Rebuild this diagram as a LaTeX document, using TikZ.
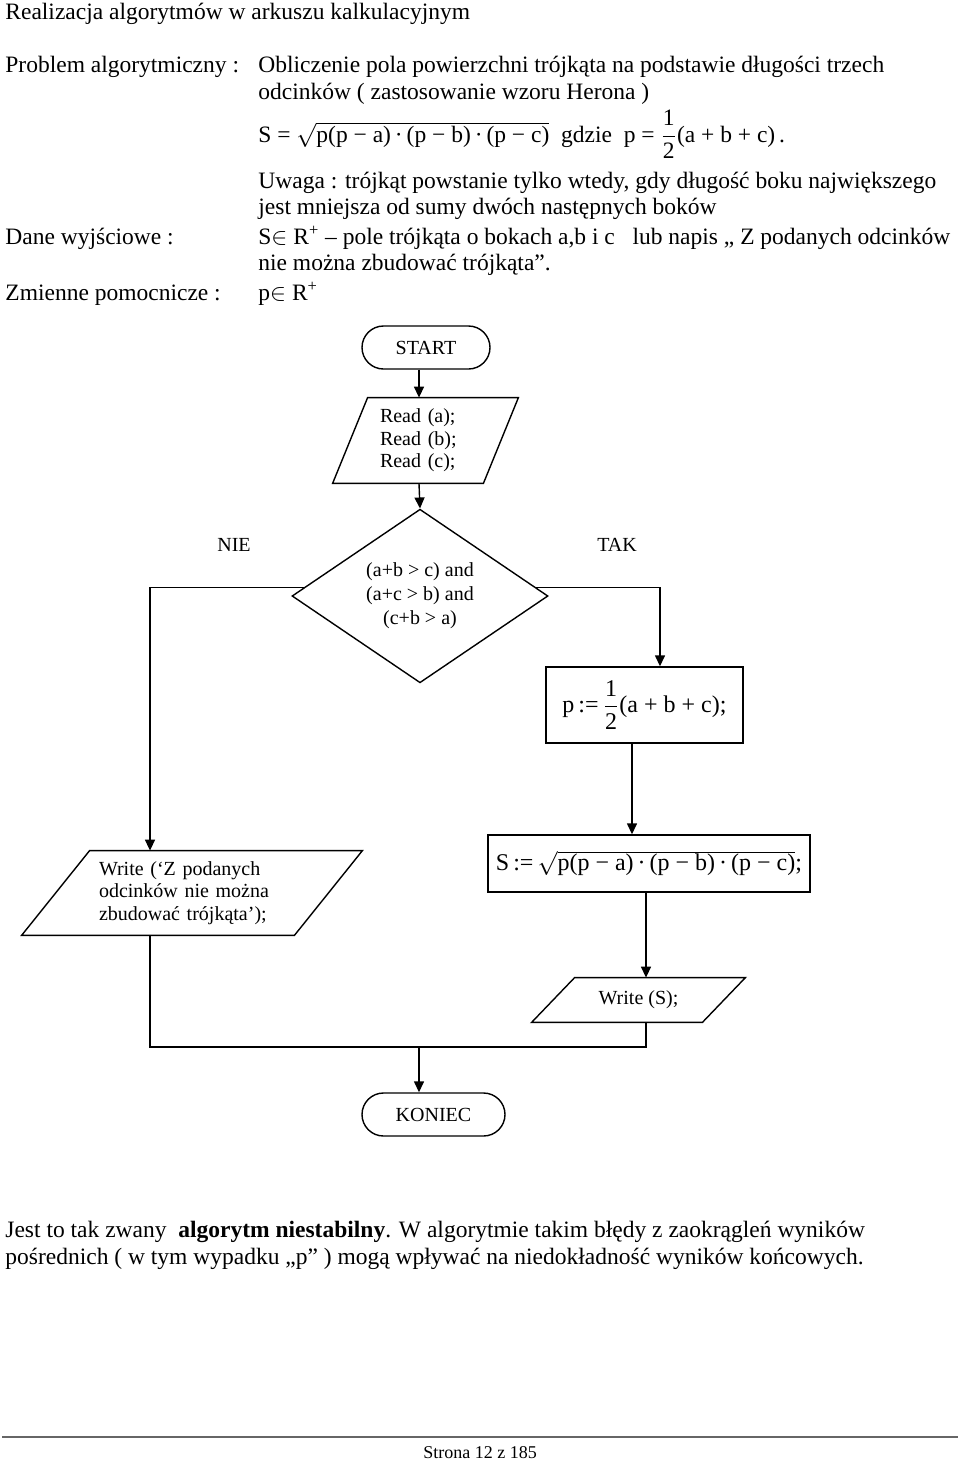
\documentclass[tikz,border=0pt]{standalone}
\usepackage{amsmath}
\usepackage{fontspec}
\setmainfont{Liberation Serif}
\usetikzlibrary{arrows.meta,shapes.geometric,calc}
\newcommand{\drawpgram}[2]{\draw[flow] (#1.south west) -- ([xshift=#2]#1.north west) -- (#1.north east) -- ([xshift=-#2]#1.south east) -- cycle;}
\begin{document}
\begin{tikzpicture}[x=0.5pt,y=-0.5pt,
  txt/.style={anchor=base west,inner sep=0pt,font=\fontsize{11.75}{14}\selectfont},
  flow/.style={line width=0.7pt},
  arr/.style={flow,-{Triangle[length=5.5pt,width=5pt]}},
  term/.style={flow,draw,rounded corners=10.75pt,minimum height=21.5pt,inner sep=0pt,font=\fontsize{10}{12}\selectfont},
  io/.style={inner sep=0pt,font=\fontsize{10}{11.3}\selectfont},
  proc/.style={flow,draw,inner sep=0pt,font=\fontsize{12}{14}\selectfont},
  dec/.style={flow,draw,diamond,inner sep=0pt,align=center,font=\fontsize{10}{12}\selectfont}]
\useasboundingbox (0,0) rectangle (960,1463);
% header text
\node[txt] (t1) at (5,19) {Realizacja algorytmów w arkuszu kalkulacyjnym};
\node[txt] (t2) at (5,72) {Problem algorytmiczny :};
\node[txt] (t3) at (258,72) {Obliczenie pola powierzchni trójkąta na podstawie długości trzech};
\node[txt] (t4) at (258,99) {odcinków ( zastosowanie wzoru Herona )};
\node[txt] (t5) at (258,142) {S = $\sqrt{\mbox{p(p − a)\,·\,(p − b)\,·\,(p − c)}}$ \ gdzie \ p = $\dfrac{\mbox{1}}{\mbox{2}}$(a + b + c)\,.};
\node[txt] (t6) at (258,188) {Uwaga : trójkąt powstanie tylko wtedy, gdy długość boku największego};
\node[txt] (t7) at (258,214) {jest mniejsza od sumy dwóch następnych boków};
\node[txt] (t8) at (5,244) {Dane wyjściowe :};
\node[txt] (t9) at (258,244) {S$\in$ R\textsuperscript{+} – pole trójkąta o bokach a,b i c \ \ lub napis „ Z podanych odcinków};
\node[txt] (t10) at (258,270) {nie można zbudować trójkąta”.};
\node[txt] (t11) at (5,300) {Zmienne pomocnicze :};
\node[txt] (t12) at (258,300) {p$\in$ R\textsuperscript{+}};
% columns
\coordinate (cC) at (419,0);
\coordinate (cL) at (150,0);
\coordinate (cR) at (660,0);
\coordinate (cP) at (632,0);
\coordinate (cS) at (646,0);
\coordinate (mj) at (419,1047);
% flowchart nodes
\node[term,minimum width=64pt] (start) at (426,347.5) {START};
\node[io,minimum width=92.5pt,minimum height=42.5pt,text width=45.5pt,align=left] (read) at (425.5,440.5) {Read (a);\\Read (b);\\Read (c);};
\drawpgram{read}{17.5pt}
\node[dec,minimum width=128pt,minimum height=83.5pt] (dec) at (420,596) {(a+b > c) and\\(a+c > b) and\\(c+b > a)};
\node[font=\fontsize{10}{12}\selectfont] (nie) at (234,545) {NIE};
\node[font=\fontsize{10}{12}\selectfont] (tak) at (617,545) {TAK};
\node[proc,minimum width=98.5pt,minimum height=38pt] (pbox) at (644.5,705) {p\,:=\,$\dfrac{\mbox{1}}{\mbox{2}}$(a + b + c);};
\node[proc,minimum width=161pt,minimum height=28.5pt] (sbox) at (649,863.5) {S\,:=\,$\sqrt{\mbox{p(p − a)\,·\,(p − b)\,·\,(p − c)}}$;};
\node[io,minimum width=170pt,minimum height=42pt,text width=93pt,align=left] (wz) at (192,893) {Write (‘Z podanych\\odcinków nie można\\zbudować trójkąta’);};
\drawpgram{wz}{34pt}
\node[io,minimum width=106.5pt,minimum height=22pt] (ws) at (638.5,1000) {Write (S);};
\drawpgram{ws}{21.5pt}
\node[term,minimum width=71.5pt] (kon) at (433.5,1114.5) {KONIEC};
% connectors
\draw[arr] (start.south -| cC) -- (read.north -| cC);
\draw[arr] (read.south -| cC) -- (dec.north);
\draw[arr] ($(dec.west)!0.1!(dec.north)$) -| (wz.north -| cL);
\draw[arr] ($(dec.east)!0.1!(dec.north)$) -| (pbox.north -| cR);
\draw[arr] (pbox.south -| cP) -- (sbox.north -| cP);
\draw[arr] (sbox.south -| cS) -- (ws.north -| cS);
\draw[flow] (wz.south -| cL) |- (mj) -| (ws.south -| cS);
\draw[arr] (mj) -- (kon.north -| mj);
% bottom text
\node[txt] (b1) at (5,1237) {Jest to tak zwany \ \textbf{algorytm niestabilny}. W algorytmie takim błędy z zaokrągleń wyników};
\node[txt] (b2) at (5,1264) {pośrednich ( w tym wypadku „p” ) mogą wpływać na niedokładność wyników końcowych.};
% footer
\coordinate (fl) at (2,1437);
\coordinate (fr) at (958,1437);
\draw[black!60,line width=1pt] (fl) -- (fr);
\node[font=\fontsize{9}{11}\selectfont,inner sep=0pt,anchor=base] (foot) at (480,1458) {Strona 12 z 185};
\end{tikzpicture}
\end{document}
